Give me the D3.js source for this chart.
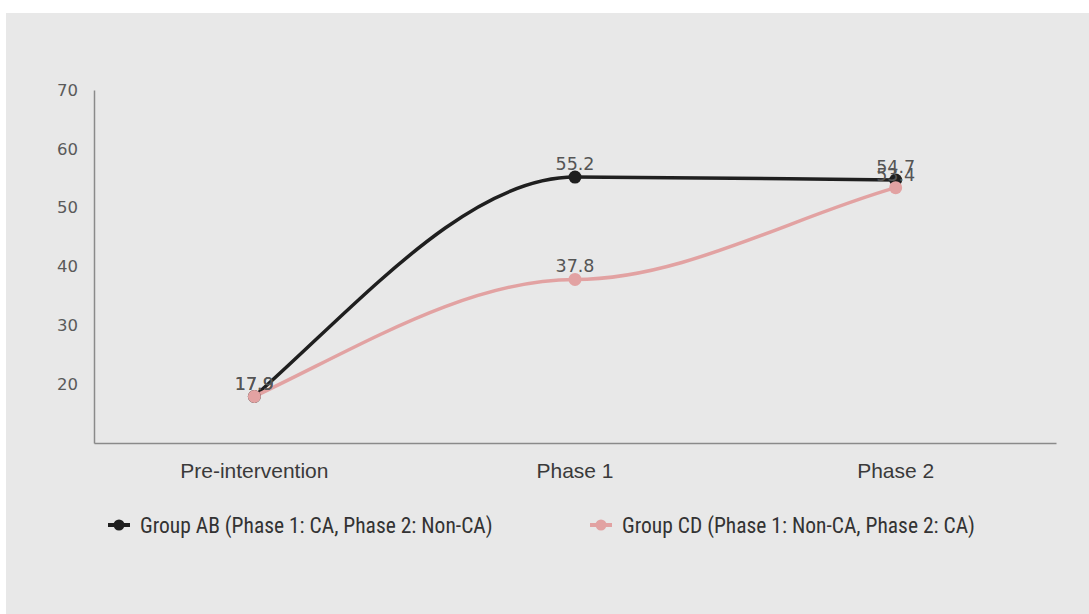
<!DOCTYPE html>
<html>
<head>
<meta charset="utf-8">
<script src="https://cdn.jsdelivr.net/npm/d3@7"></script>
<style>
  html, body { margin: 0; padding: 0; background: #ffffff; }
  svg { display: block; }
</style>
</head>
<body>
<svg id="chart" width="1089" height="614"></svg>
<script>
// Phases on the x axis
const categories = ["Pre-intervention", "Phase 1", "Phase 2"];
// Mean scores per group
const groupAB = [17.9, 55.2, 54.7];
const groupCD = [17.9, 37.8, 53.4];
const seriesNames = [
  "Group AB (Phase 1: CA, Phase 2: Non-CA)",
  "Group CD (Phase 1: Non-CA, Phase 2: CA)"
];
const yTicks = [20, 30, 40, 50, 60, 70];

const series = [
  { name: seriesNames[0], values: groupAB, color: "#1f1f1f" },
  { name: seriesNames[1], values: groupCD, color: "#e2a2a2" }
];

// Smooth curve: cubic Hermite segments with level tangents at the inner
// points and chord-based tangents at both ends.
function curveLevelKnots(context) {
  let xs, ys;
  return {
    areaStart() {}, areaEnd() {},
    lineStart() { xs = []; ys = []; },
    point(x, y) { xs.push(+x); ys.push(+y); },
    lineEnd() {
      const n = xs.length;
      if (!n) return;
      context.moveTo(xs[0], ys[0]);
      if (n === 1) return;
      const m = new Array(n).fill(0);
      m[0] = 1.3 * (ys[1] - ys[0]) / (xs[1] - xs[0]);
      m[n - 1] = 1.0 * (ys[n - 1] - ys[n - 2]) / (xs[n - 1] - xs[n - 2]);
      for (let i = 1; i < n; i++) {
        const h = (xs[i] - xs[i - 1]) / 3;
        context.bezierCurveTo(
          xs[i - 1] + h, ys[i - 1] + m[i - 1] * h,
          xs[i] - h, ys[i] - m[i] * h,
          xs[i], ys[i]);
      }
    }
  };
}

const svg = d3.select("#chart");

// panel background
svg.append("rect")
  .attr("x", 6).attr("y", 13)
  .attr("width", 1089 - 6).attr("height", 614 - 13)
  .attr("fill", "#e8e8e8");

const plot = { left: 94, right: 1056, top: 90, bottom: 443 };

const x = d3.scaleBand().domain(categories).range([plot.left, plot.right]);
const cx = d => x(d) + x.bandwidth() / 2;
const y = d3.scaleLinear().domain([10, 70]).range([plot.bottom, plot.top]);

const numFont = "'DejaVu Sans', 'Noto Sans', sans-serif";

// y axis
const yAxis = svg.append("g")
  .attr("transform", `translate(${plot.left},0)`)
  .call(d3.axisLeft(y).tickValues(yTicks).tickSize(0).tickPadding(16));
yAxis.select(".domain").attr("stroke", "#8a8a8a").attr("stroke-width", 1.5);
yAxis.selectAll("text")
  .attr("font-family", numFont)
  .attr("font-size", 16.5).attr("fill", "#5a5a5a");

// x axis
const xAxis = svg.append("g")
  .attr("transform", `translate(0,${plot.bottom})`)
  .call(d3.axisBottom(x).tickSize(0).tickPadding(0));
xAxis.select(".domain").attr("stroke", "#8a8a8a").attr("stroke-width", 1.5);
xAxis.selectAll("text")
  .attr("y", 35).attr("dy", null)
  .attr("font-family", "'Liberation Sans', Arial, sans-serif")
  .attr("font-size", 21).attr("fill", "#3a3a3a");

const line = d3.line()
  .x((d, i) => cx(categories[i]))
  .y(d => y(d))
  .curve(curveLevelKnots);

// lines, then markers; the second group is drawn over the first
series.forEach(s => {
  svg.append("path")
    .attr("d", line(s.values))
    .attr("fill", "none")
    .attr("stroke", s.color)
    .attr("stroke-width", 3.5)
    .attr("stroke-linecap", "round");
});
series.forEach(s => {
  svg.selectAll(null).data(s.values).enter().append("circle")
    .attr("cx", (d, i) => cx(categories[i]))
    .attr("cy", d => y(d))
    .attr("r", 6.5)
    .attr("fill", s.color);
});

// value labels
series.forEach(s => {
  svg.selectAll(null).data(s.values).enter().append("text")
    .attr("x", (d, i) => cx(categories[i]))
    .attr("y", d => y(d) - 7)
    .attr("text-anchor", "middle")
    .attr("font-family", numFont)
    .attr("font-size", 17.5)
    .attr("fill", "#555")
    .text(d => d.toFixed(1));
});

// legend
const legendX = [119, 601];
series.forEach((s, i) => {
  const g = svg.append("g").attr("transform", `translate(${legendX[i]},525)`);
  g.append("line").attr("x1", -11).attr("x2", 11).attr("y1", 0).attr("y2", 0)
    .attr("stroke", s.color).attr("stroke-width", 4);
  g.append("circle").attr("r", 5.5).attr("fill", s.color);
  g.append("text")
    .attr("x", 21).attr("y", 8)
    .attr("font-family", "'Liberation Sans Narrow', 'Roboto Condensed', sans-serif")
    .attr("font-size", 21.5)
    .attr("fill", "#333")
    .text(s.name);
});
</script>
</body>
</html>
